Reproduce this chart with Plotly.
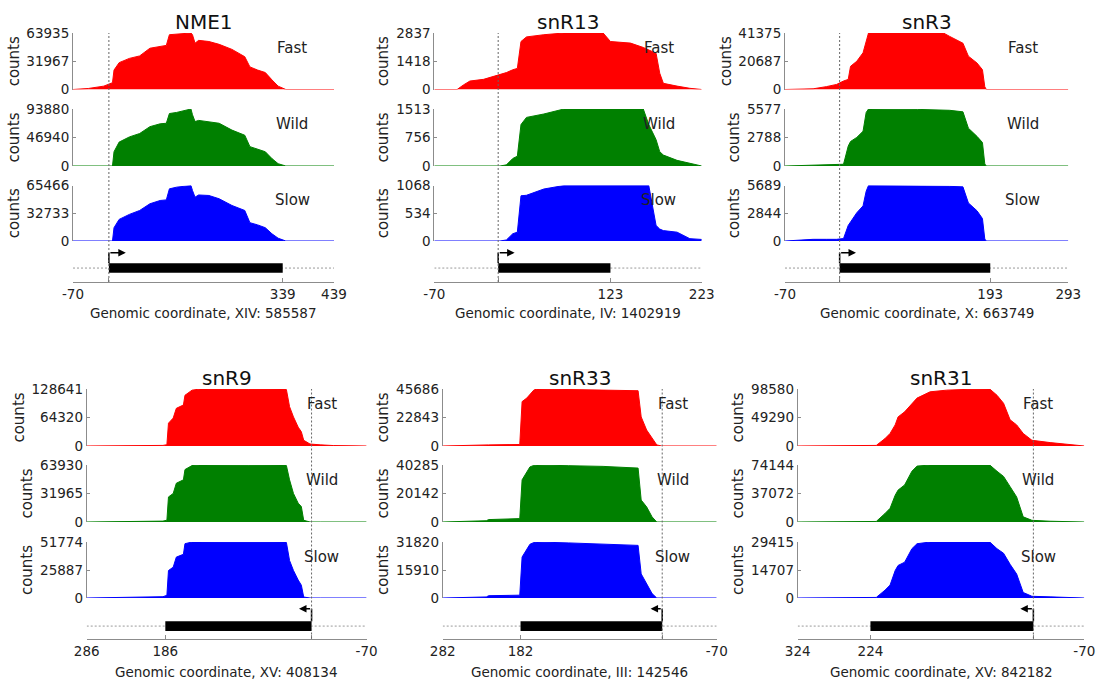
import plotly.graph_objects as go

W, H = 1101, 686

# ---------------- data ----------------
nme1_pos = [-70, -40, -10, 0, 7, 10, 20, 40, 60, 80, 100, 112, 118, 132, 150, 160, 163, 168, 175, 195, 215, 240, 265, 275, 290, 305, 318, 330, 345, 439]
nme1_fast = [0, 1150, 3800, 6100, 7700, 22000, 30400, 35200, 38000, 46700, 49200, 49900, 62000, 62600, 63935, 63935, 62000, 52400, 55600, 54300, 51100, 45400, 37100, 25600, 22000, 19200, 10900, 3800, 0, 0]
nme1_wild = [0, 0, 0, 0, 0, 23500, 39400, 47900, 53500, 64800, 69500, 70400, 86400, 88200, 92000, 93880, 84500, 73200, 75100, 73200, 70400, 59100, 50700, 31900, 27200, 23500, 12200, 3800, 0, 0]
nme1_slow = [0, 0, 0, 0, 0, 15700, 25500, 31400, 36000, 43900, 47800, 48500, 61500, 63500, 64200, 65466, 59600, 51700, 54300, 53700, 49800, 41900, 36000, 21600, 19000, 15700, 8500, 3300, 0, 0]

snr13_pos = [-70, -45, -38, -31, -16, -5, 2, 9, 16, 21, 25, 31, 50, 72, 100, 115, 123, 145, 159, 165, 173, 177, 181, 196, 210, 223]
snr13_fast = [0, 0, 230, 425, 510, 650, 770, 850, 990, 1060, 2410, 2640, 2750, 2837, 2837, 2837, 2410, 2330, 2110, 1980, 1820, 820, 310, 170, 60, 0]
snr13_wild = [0, 0, 0, 0, 0, 0, 0, 30, 200, 260, 1100, 1290, 1380, 1513, 1513, 1513, 1513, 1513, 1513, 1100, 700, 380, 290, 150, 75, 0]
snr13_slow = [0, 0, 0, 0, 0, 0, 0, 20, 140, 170, 870, 880, 1000, 1068, 1068, 1068, 1068, 1068, 1068, 1068, 300, 230, 200, 170, 45, 30]

snr3_pos = [-70, -34, -17, -4, 5, 11, 14, 22, 30, 34, 37, 100, 133, 141, 158, 165, 176, 183, 186, 188, 293]
snr3_fast = [0, 500, 2100, 3700, 6200, 7400, 17000, 20700, 26900, 36400, 41375, 41375, 41375, 38900, 33900, 24400, 19400, 14500, 2000, 0, 0]
snr3_wild = [0, 60, 110, 170, 170, 1950, 2400, 2800, 3400, 5240, 5577, 5540, 5480, 5450, 5300, 3700, 2900, 2300, 200, 0, 0]
snr3_slow = [0, 170, 170, 170, 250, 1600, 1950, 2900, 3600, 5100, 5689, 5660, 5630, 5600, 5550, 3900, 3100, 2300, 200, 0, 0]

snr9_pos = [286, 230, 189, 184, 182, 176, 172, 163, 161, 152, 142, 80, 32, 28, 23, 17, 13, 10, 2, -11, -28, -70]
snr9_fast = [0, 400, 1300, 3000, 51500, 63000, 85000, 92600, 114500, 126000, 128641, 128000, 127400, 88800, 65600, 42500, 32200, 12900, 4500, 2600, 1000, 0]
snr9_wild = [0, 300, 1000, 2000, 28100, 32000, 43500, 47300, 58800, 63300, 63930, 63700, 63300, 47300, 32000, 21100, 17300, 1900, 0, 0, 0, 0]
snr9_slow = [0, 300, 1200, 2500, 25400, 28500, 37800, 40400, 50200, 51774, 51774, 51500, 51300, 34700, 25400, 16600, 11900, 900, 0, 0, 0, 0]

snr33_pos = [282, 250, 226, 223, 183, 180, 174, 170, 165, 161, 120, 76, 31, 27, 20, 13, 7, 1, -70]
snr33_fast = [0, 200, 300, 900, 1200, 35600, 38400, 41100, 44800, 45686, 45000, 44800, 44300, 23300, 12800, 5900, 900, 0, 0]
snr33_wild = [0, 500, 900, 1700, 2400, 29800, 35700, 38900, 40000, 40285, 39800, 39300, 38100, 15500, 10700, 3600, 0, 0, 0]
snr33_slow = [0, 300, 600, 1300, 1600, 23300, 28000, 30500, 31500, 31820, 31300, 30800, 29900, 13700, 8100, 2500, 0, 0, 0]

snr31_pos = [324, 216, 204, 197, 190, 186, 177, 167, 160, 142, 119, 90, 60, 50, 41, 32, 23, 14, 2, -23, -50, -70]
snr31_fast = [0, 1000, 12800, 21700, 36500, 50300, 59100, 73900, 82800, 93700, 96600, 98000, 98580, 87700, 73900, 45300, 36500, 21700, 9900, 5900, 2000, 0]
snr31_wild = [0, 700, 11100, 17800, 34800, 41500, 48200, 66000, 72700, 74144, 74144, 74144, 74144, 66000, 59300, 46000, 32600, 6700, 2200, 1000, 300, 0]
snr31_slow = [0, 300, 4100, 6800, 14400, 17100, 18800, 25900, 28500, 29415, 29415, 29415, 29415, 25900, 23500, 17700, 12600, 2900, 900, 600, 200, 0]

gene_names = ["NME1", "snR13", "snR3", "snR9", "snR33", "snR31"]
gene_ends = [339, 123, 193, 186, 182, 224]
view_ranges = [(-70, 439), (-70, 223), (-70, 293), (286, -70), (282, -70), (324, -70)]
coord_labels = ["Genomic coordinate, XIV: 585587", "Genomic coordinate, IV: 1402919",
                "Genomic coordinate, X: 663749", "Genomic coordinate, XV: 408134",
                "Genomic coordinate, III: 142546", "Genomic coordinate, XV: 842182"]
y_maxes = [(63935, 93880, 65466), (2837, 1513, 1068), (41375, 5577, 5689),
           (128641, 63930, 51774), (45686, 40285, 31820), (98580, 74144, 29415)]
series_names = ["Fast", "Wild", "Slow"]

positions = [nme1_pos, snr13_pos, snr3_pos, snr9_pos, snr33_pos, snr31_pos]
profiles = [(nme1_fast, nme1_wild, nme1_slow), (snr13_fast, snr13_wild, snr13_slow),
            (snr3_fast, snr3_wild, snr3_slow), (snr9_fast, snr9_wild, snr9_slow),
            (snr33_fast, snr33_wild, snr33_slow), (snr31_fast, snr31_wild, snr31_slow)]

# ---------------- styles / layout geometry (pixels) ----------------
colors = ["#ff0000", "#008000", "#0000ff"]
FONT = "DejaVu Sans"
panel_x = [(73, 334), (434.3, 701.7), (785, 1068.3), (86.7, 366.6), (442.7, 716.7), (797.7, 1084.3)]
panel_row = [0, 0, 0, 1, 1, 1]
row_bands = [
    [(33, 89.5), (109, 166), (185.5, 241)],
    [(389, 446), (465, 522), (542, 598)],
]
row_gene = [(248, 282), (604, 638.5)]
row_title_y = [22, 378]
row_xlabel_y = [313, 671.5]
arrow_len = [33, 18, 21, 16, 15, 18]
gene_center = [0.41, 0.36]
box_half = 0.14
arrow_y = 0.86


def fx(px):
    return px / W


def fy(py):
    return 1 - py / H


fig = go.Figure()
layout = {}
shapes = []
annotations = []
k = 0


def ax_names(k):
    return ("x" if k == 1 else f"x{k}", "y" if k == 1 else f"y{k}",
            "xaxis" if k == 1 else f"xaxis{k}", "yaxis" if k == 1 else f"yaxis{k}")


for p in range(6):
    x0p, x1p = panel_x[p]
    row = panel_row[p]
    xr = list(view_ranges[p])
    first_x = None
    # three profile subplots
    for s in range(3):
        k += 1
        xn, yn, xan, yan = ax_names(k)
        top, bot = row_bands[row][s]
        ymax = y_maxes[p][s]
        fig.add_trace(go.Scatter(
            x=positions[p], y=profiles[p][s], mode="lines", fill="tozeroy",
            line=dict(color=colors[s], width=1), fillcolor=colors[s],
            xaxis=xn, yaxis=yn, hoverinfo="skip", showlegend=False))
        layout[xan] = dict(domain=[fx(x0p), fx(x1p)], range=xr, visible=False,
                           anchor=yn, automargin=False)
        layout[yan] = dict(domain=[fy(bot), fy(top)], range=[0, ymax], anchor=xn,
                           automargin=False,
                           showline=True, linecolor="#8c8c8c", linewidth=1,
                           ticks="inside", ticklen=3, tickcolor="#8c8c8c",
                           tickvals=[0, ymax // 2, ymax],
                           ticktext=["0", str(ymax // 2), str(ymax)],
                           tickfont=dict(family=FONT, size=13.5, color="#222"),
                           showgrid=False, zeroline=False,
                           title=dict(text="counts", standoff=3,
                                      font=dict(family=FONT, size=15, color="#222")))
        if first_x is None:
            first_x = xn
        annotations.append(dict(
            text=series_names[s], xref=f"{xn} domain", yref=f"{yn} domain",
            x=0.84, y=0.73, showarrow=False, xanchor="center", yanchor="middle",
            font=dict(family=FONT, size=15, color="#222")))
    # gene diagram subplot
    k += 1
    xn, yn, xan, yan = ax_names(k)
    gtop, gbot = row_gene[row]
    gend = gene_ends[p]
    tickv = [xr[0], 0, gend, xr[1]] if xr[0] < xr[1] else [xr[0], gend, 0, xr[1]]
    tickt = [str(v) if v != 0 else "" for v in tickv]
    layout[xan] = dict(domain=[fx(x0p), fx(x1p)], range=xr, anchor=yn,
                       automargin=False,
                       showline=True, linecolor="#8c8c8c", linewidth=1,
                       ticks="inside", ticklen=4, tickcolor="#8c8c8c",
                       tickvals=tickv, ticktext=tickt,
                       tickfont=dict(family=FONT, size=13.5, color="#222"),
                       showgrid=False, zeroline=False)
    layout[yan] = dict(domain=[fy(gbot), fy(gtop)], range=[0, 1], visible=False,
                       anchor=xn, automargin=False)
    gc = gene_center[row]
    fig.add_trace(go.Scatter(
        x=list(view_ranges[p]), y=[gc, gc], mode="lines",
        line=dict(color="#999999", width=1, dash="2px,2px"),
        xaxis=xn, yaxis=yn, hoverinfo="skip", showlegend=False))
    shapes.append(dict(type="rect", xref=xn, yref=yn, x0=0, x1=gend,
                       y0=gc - box_half, y1=gc + box_half,
                       fillcolor="black", line=dict(width=0)))
    shapes.append(dict(type="line", xref=xn, yref=yn, x0=0, x1=0,
                       y0=gc + box_half, y1=arrow_y,
                       line=dict(color="black", width=1.5)))
    annotations.append(dict(text="", xref=xn, yref=yn, axref=xn, ayref=yn,
                            x=arrow_len[p], y=arrow_y, ax=0, ay=arrow_y,
                            showarrow=True, arrowhead=2, arrowsize=1,
                            arrowwidth=1.5, arrowcolor="black"))
    # dotted TSS line through all subplots
    shapes.append(dict(type="line", xref=first_x, yref="paper", x0=0, x1=0,
                       y0=fy(gbot), y1=fy(row_bands[row][0][0]),
                       line=dict(color="#666666", width=1, dash="2px,2px"),
                       layer="above"))
    # title and x label
    annotations.append(dict(text=gene_names[p], xref="paper", yref="paper",
                            x=fx((x0p + x1p) / 2), y=fy(row_title_y[row]),
                            showarrow=False, xanchor="center", yanchor="middle",
                            font=dict(family=FONT, size=20, color="#111")))
    annotations.append(dict(text=coord_labels[p], xref="paper", yref="paper",
                            x=fx((x0p + x1p) / 2), y=fy(row_xlabel_y[row]),
                            showarrow=False, xanchor="center", yanchor="middle",
                            font=dict(family=FONT, size=13.5, color="#222")))

fig.update_layout(**layout)
fig.update_layout(width=W, height=H, margin=dict(l=0, r=0, t=0, b=0, autoexpand=False),
                  paper_bgcolor="white", plot_bgcolor="white",
                  showlegend=False, shapes=shapes, annotations=annotations,
                  font=dict(family=FONT))
fig.write_html("out.html", config={"displayModeBar": False},
               post_script="document.body.style.margin='0';document.body.style.padding='0';")
